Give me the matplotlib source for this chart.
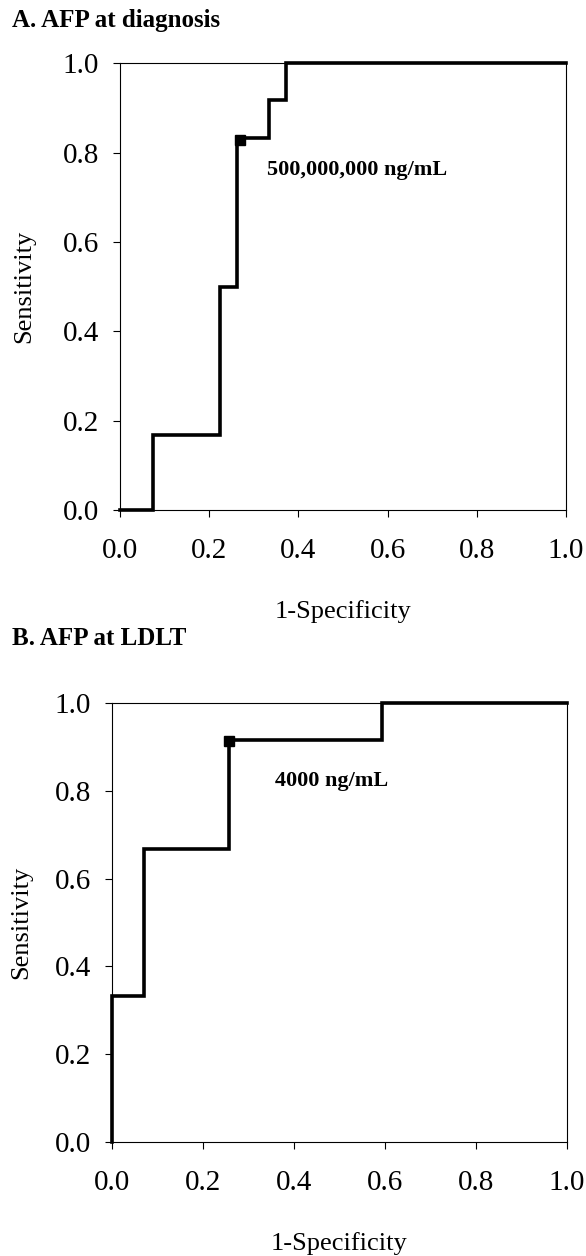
import matplotlib
matplotlib.use('Agg')
import matplotlib.pyplot as plt

plt.rcParams['font.family'] = ['Liberation Serif', 'DejaVu Serif']

# ROC curve A: AFP at diagnosis
fprA = [0.0, 0.075, 0.075, 0.224, 0.224, 0.262, 0.262, 0.333, 0.333, 0.372, 0.372, 1.0]
tprA = [0.0, 0.0, 0.167, 0.167, 0.5, 0.5, 0.833, 0.833, 0.917, 0.917, 1.0, 1.0]
cutA = (0.27, 0.828)
labA = '500,000,000 ng/mL'

# ROC curve B: AFP at LDLT
fprB = [0.0, 0.0, 0.071, 0.071, 0.258, 0.258, 0.593, 0.593, 1.0]
tprB = [0.0, 0.333, 0.333, 0.667, 0.667, 0.917, 0.917, 1.0, 1.0]
cutB = (0.258, 0.915)
labB = '4000 ng/mL'

ticks = [0.0, 0.2, 0.4, 0.6, 0.8, 1.0]
ticklabs = ['%.1f' % t for t in ticks]

fig = plt.figure(figsize=(5.86, 12.56), dpi=100)
axA = fig.add_axes([0.2048, 0.594, 0.761, 0.3557])
axB = fig.add_axes([0.1906, 0.0909, 0.7765, 0.3491])

panels = [(axA, fprA, tprA, cutA, labA, (0.329, 0.761), 'A. AFP at diagnosis', 0.984, 20),
          (axB, fprB, tprB, cutB, labB, (0.359, 0.823), 'B. AFP at LDLT', 0.492, 16)]

for ax, x, y, cut, lab, pos, title, ty, ylp in panels:
    ax.plot(x, y, color='black', lw=2.6, solid_joinstyle='miter', clip_on=False, zorder=3)
    ax.plot([cut[0]], [cut[1]], 's', color='black', ms=7, zorder=4, clip_on=False)
    ax.text(pos[0], pos[1], lab, fontsize=16, fontweight='bold', va='center', ha='left')
    ax.set_xlim(0, 1)
    ax.set_ylim(0, 1)
    ax.set_xticks(ticks)
    ax.set_xticklabels(ticklabs)
    ax.set_yticks(ticks)
    ax.set_yticklabels(ticklabs)
    ax.tick_params(direction='out', length=5, width=0.8, labelsize=21)
    ax.tick_params(axis='x', pad=15)
    ax.tick_params(axis='y', pad=10)
    for s in ax.spines.values():
        s.set_linewidth(0.8)
    ax.set_xlabel('1-Specificity', fontsize=19, labelpad=26)
    ax.set_ylabel('Sensitivity', fontsize=19, labelpad=ylp)
    fig.text(0.02, ty, title, fontsize=18, fontweight='bold', va='center', ha='left')

fig.savefig('out.png', dpi=100)
